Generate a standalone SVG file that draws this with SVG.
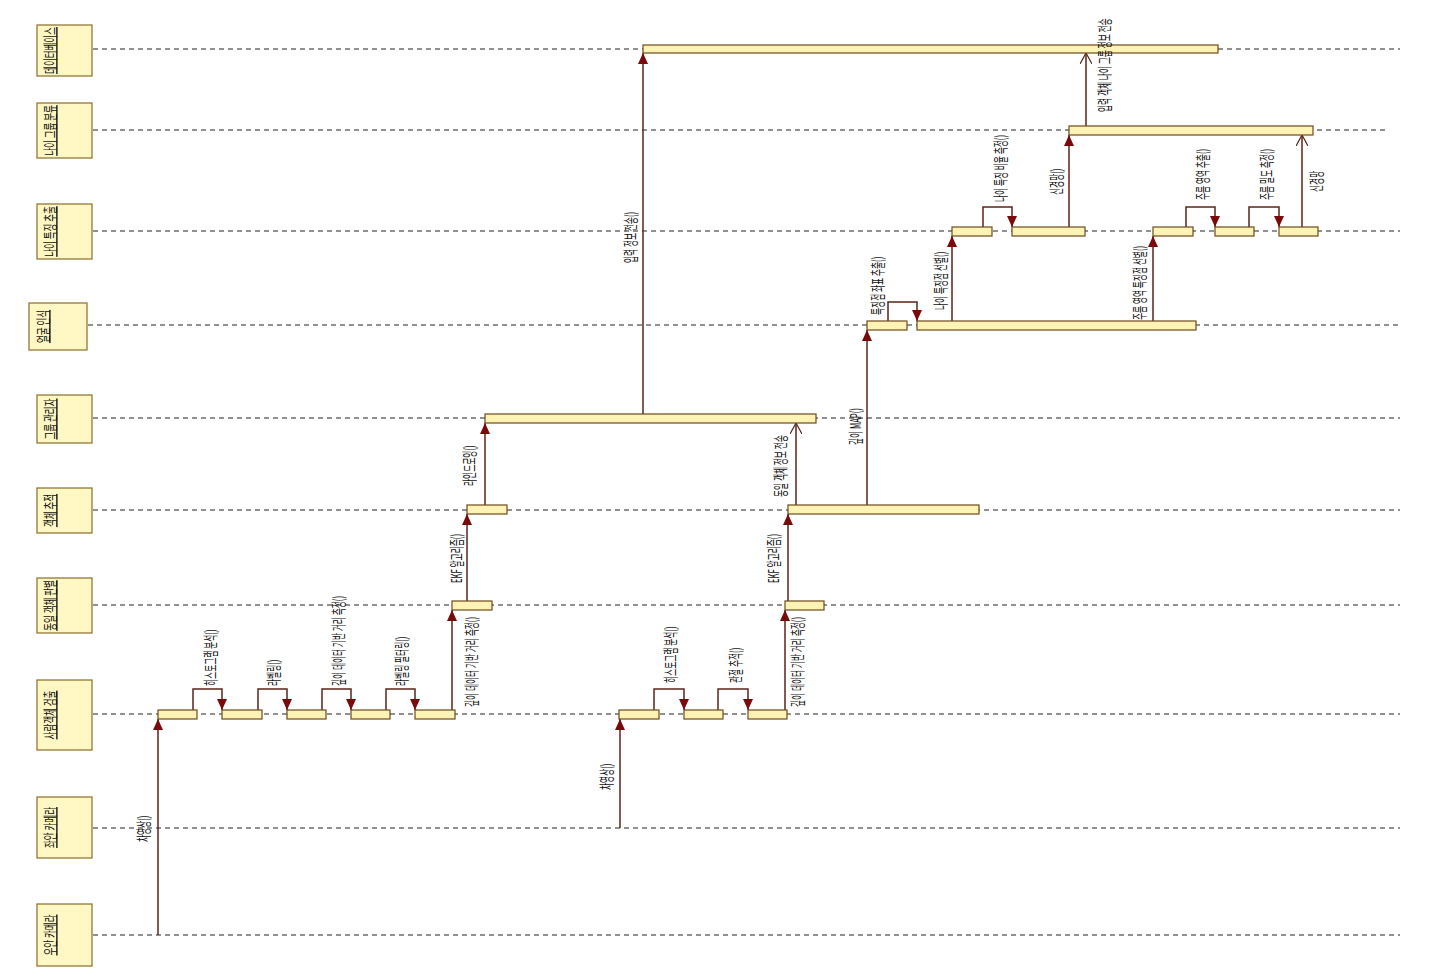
<svg xmlns="http://www.w3.org/2000/svg" width="1430" height="980" viewBox="0 0 1430 980">
<style>
.bg{fill:#ffffff}
.life{stroke:#222;stroke-width:1;stroke-dasharray:5,4;fill:none}
.obj{fill:#fff8c4;stroke:#8a6d2c;stroke-width:1.2}
.act{fill:#fdf3b4;stroke:#6e4a1c;stroke-width:1.2}
.msg{stroke:#5a2418;stroke-width:1.5;fill:none}
.lbl{font-family:"Noto Sans CJK KR","Noto Sans",sans-serif;font-size:7.7px;fill:#111}
.olbl{font-family:"Noto Sans CJK KR","Noto Sans",sans-serif;font-size:8.5px;fill:#111;text-decoration:underline}
</style>
<defs>
<marker id="fa" markerUnits="userSpaceOnUse" markerWidth="12" markerHeight="10" refX="11" refY="5" orient="auto">
<path d="M0,0 L11,5 L0,10 z" fill="#7a0a0a"/>
</marker>
<marker id="oa" markerUnits="userSpaceOnUse" markerWidth="12" markerHeight="12" refX="11" refY="6" orient="auto">
<path d="M0,0 L11,6 L0,12" fill="none" stroke="#5a2418" stroke-width="1.2"/>
</marker>
</defs>
<rect class="bg" x="0" y="0" width="1430" height="980"/>

<g id="lifelines">
<line class="life" x1="93" y1="49" x2="1400" y2="49"/>
<line class="life" x1="93" y1="130" x2="1385" y2="130"/>
<line class="life" x1="93" y1="231" x2="1400" y2="231"/>
<line class="life" x1="88" y1="325" x2="1400" y2="325"/>
<line class="life" x1="93" y1="418" x2="1400" y2="418"/>
<line class="life" x1="93" y1="510" x2="1400" y2="510"/>
<line class="life" x1="93" y1="605" x2="1400" y2="605"/>
<line class="life" x1="93" y1="714" x2="1400" y2="714"/>
<line class="life" x1="93" y1="828" x2="1400" y2="828" stroke="#555"/>
<line class="life" x1="93" y1="935" x2="1400" y2="935" stroke="#555"/>
</g>

<g id="obj-db"><rect class="obj" x="37" y="25" width="55" height="51"/><text class="olbl" text-anchor="middle" transform="translate(55,50.5) rotate(-90) scale(1,1.6)">데이터베이스</text></g>
<g id="obj-agegroup"><rect class="obj" x="37" y="103" width="55" height="55"/><text class="olbl" text-anchor="middle" transform="translate(55,130.5) rotate(-90) scale(1,1.6)">나이 그룹 분류</text></g>
<g id="obj-agefeature"><rect class="obj" x="37" y="204" width="55" height="55"/><text class="olbl" text-anchor="middle" transform="translate(55,231.5) rotate(-90) scale(1,1.6)">나이 특징 추출</text></g>
<g id="obj-face"><rect class="obj" x="29" y="303" width="58" height="47"/><text class="olbl" text-anchor="middle" transform="translate(48,326.5) rotate(-90) scale(1,1.6)">얼굴 인식</text></g>
<g id="obj-group"><rect class="obj" x="37" y="395" width="55" height="48"/><text class="olbl" text-anchor="middle" transform="translate(55,419) rotate(-90) scale(1,1.6)">그룹 관리자</text></g>
<g id="obj-track"><rect class="obj" x="37" y="488" width="55" height="45"/><text class="olbl" text-anchor="middle" transform="translate(55,510.5) rotate(-90) scale(1,1.6)">객체 추적</text></g>
<g id="obj-judge"><rect class="obj" x="37" y="578" width="55" height="55"/><text class="olbl" text-anchor="middle" transform="translate(55,605.5) rotate(-90) scale(1,1.6)">동일 객체 판별</text></g>
<g id="obj-detect"><rect class="obj" x="37" y="680" width="55" height="70"/><text class="olbl" text-anchor="middle" transform="translate(55,715) rotate(-90) scale(1,1.6)">사람객체 검출</text></g>
<g id="obj-leftcam"><rect class="obj" x="37" y="797" width="55" height="61"/><text class="olbl" text-anchor="middle" transform="translate(55,827.5) rotate(-90) scale(1,1.6)">좌안 카메라</text></g>
<g id="obj-rightcam"><rect class="obj" x="37" y="904" width="55" height="62"/><text class="olbl" text-anchor="middle" transform="translate(55,935) rotate(-90) scale(1,1.6)">우안 카메라</text></g>

<g id="connectors">
<line class="msg" x1="158" y1="935" x2="158" y2="719" marker-end="url(#fa)"/>
<path class="msg" d="M193,710 V689 H222 V710" marker-end="url(#fa)"/>
<path class="msg" d="M258,710 V689 H287 V710" marker-end="url(#fa)"/>
<path class="msg" d="M322,710 V689 H351 V710" marker-end="url(#fa)"/>
<path class="msg" d="M386,710 V689 H415 V710" marker-end="url(#fa)"/>
<line class="msg" x1="452" y1="710" x2="452" y2="610" marker-end="url(#fa)"/>
<line class="msg" x1="467" y1="601" x2="467" y2="514" marker-end="url(#fa)"/>
<line class="msg" x1="485" y1="506" x2="485" y2="423" marker-end="url(#fa)"/>
<line class="msg" x1="643" y1="414" x2="643" y2="53" marker-end="url(#fa)"/>
<line class="msg" x1="620" y1="828" x2="620" y2="719" marker-end="url(#fa)"/>
<path class="msg" d="M654,710 V689 H684 V710" marker-end="url(#fa)"/>
<path class="msg" d="M718,710 V689 H748 V710" marker-end="url(#fa)"/>
<line class="msg" x1="785" y1="710" x2="785" y2="610" marker-end="url(#fa)"/>
<line class="msg" x1="788" y1="601" x2="788" y2="514" marker-end="url(#fa)"/>
<line class="msg" x1="796" y1="506" x2="796" y2="423" marker-end="url(#oa)"/>
<line class="msg" x1="867" y1="506" x2="867" y2="330" marker-end="url(#fa)"/>
<path class="msg" d="M888,321 V302 H917 V321" marker-end="url(#fa)"/>
<line class="msg" x1="952" y1="321" x2="952" y2="236" marker-end="url(#fa)"/>
<path class="msg" d="M983,227 V207 H1012 V227" marker-end="url(#fa)"/>
<line class="msg" x1="1069" y1="227" x2="1069" y2="135" marker-end="url(#fa)"/>
<line class="msg" x1="1086" y1="126" x2="1086" y2="53" marker-end="url(#oa)"/>
<line class="msg" x1="1153" y1="321" x2="1153" y2="236" marker-end="url(#fa)"/>
<path class="msg" d="M1186,227 V207 H1215 V227" marker-end="url(#fa)"/>
<path class="msg" d="M1249,227 V207 H1279 V227" marker-end="url(#fa)"/>
<line class="msg" x1="1302" y1="227" x2="1302" y2="135" marker-end="url(#oa)"/>
</g>

<g id="activations">
<rect class="act" x="158" y="710" width="39" height="9"/>
<rect class="act" x="222" y="710" width="40" height="9"/>
<rect class="act" x="287" y="710" width="39" height="9"/>
<rect class="act" x="351" y="710" width="39" height="9"/>
<rect class="act" x="415" y="710" width="40" height="9"/>
<rect class="act" x="619" y="710" width="40" height="9"/>
<rect class="act" x="684" y="710" width="39" height="9"/>
<rect class="act" x="748" y="710" width="39" height="9"/>
<rect class="act" x="452" y="601" width="40" height="9"/>
<rect class="act" x="785" y="601" width="39" height="9"/>
<rect class="act" x="467" y="505" width="40" height="9"/>
<rect class="act" x="788" y="505" width="191" height="9"/>
<rect class="act" x="485" y="414" width="331" height="9"/>
<rect class="act" x="643" y="45" width="575" height="8"/>
<rect class="act" x="867" y="321" width="40" height="9"/>
<rect class="act" x="917" y="321" width="279" height="9"/>
<rect class="act" x="952" y="227" width="40" height="9"/>
<rect class="act" x="1012" y="227" width="73" height="9"/>
<rect class="act" x="1153" y="227" width="40" height="9"/>
<rect class="act" x="1215" y="227" width="39" height="9"/>
<rect class="act" x="1279" y="227" width="39" height="9"/>
<rect class="act" x="1069" y="126" width="244" height="9"/>
</g>

<g id="labels">
<text class="lbl" transform="translate(149,842) rotate(-90) scale(1,1.9)">차영상()</text>
<text class="lbl" transform="translate(216,686) rotate(-90) scale(1,1.9)">히스토그램 분석()</text>
<text class="lbl" transform="translate(279,686) rotate(-90) scale(1,1.9)">라벨링()</text>
<text class="lbl" transform="translate(344,686) rotate(-90) scale(1,1.9)">깊이 데이터 기반 거리 측정()</text>
<text class="lbl" transform="translate(407,686) rotate(-90) scale(1,1.9)">라벨링 필터링()</text>
<text class="lbl" transform="translate(477,707) rotate(-90) scale(1,1.9)">깊이 데이터 기반 거리 측정()</text>
<text class="lbl" transform="translate(462,583) rotate(-90) scale(1,1.9)">EKF 알고리즘()</text>
<text class="lbl" transform="translate(475,486) rotate(-90) scale(1,1.9)">라인드로잉()</text>
<text class="lbl" transform="translate(636,263) rotate(-90) scale(1,1.9)">입력 정보 전송()</text>
<text class="lbl" transform="translate(612,790) rotate(-90) scale(1,1.9)">차영상()</text>
<text class="lbl" transform="translate(676,683) rotate(-90) scale(1,1.9)">히스토그램 분석()</text>
<text class="lbl" transform="translate(741,683) rotate(-90) scale(1,1.9)">관절 추적()</text>
<text class="lbl" transform="translate(803,707) rotate(-90) scale(1,1.9)">깊이 데이터 기반 거리 측정()</text>
<text class="lbl" transform="translate(779,583) rotate(-90) scale(1,1.9)">EKF 알고리즘()</text>
<text class="lbl" transform="translate(786,497) rotate(-90) scale(1,1.9)">동일 객체 정보 전송</text>
<text class="lbl" transform="translate(861,445) rotate(-90) scale(1,1.9)">깊이 MAP()</text>
<text class="lbl" transform="translate(883,315) rotate(-90) scale(1,1.9)">특징점 좌표 추출()</text>
<text class="lbl" transform="translate(946,310) rotate(-90) scale(1,1.9)">나이 특징점 선별()</text>
<text class="lbl" transform="translate(1006,202) rotate(-90) scale(1,1.9)">나이 특징 비율 측정()</text>
<text class="lbl" transform="translate(1062,195) rotate(-90) scale(1,1.9)">신경망()</text>
<text class="lbl" transform="translate(1110,112) rotate(-90) scale(1,1.9)">입력 객체 나이 그룹 정보 전송</text>
<text class="lbl" transform="translate(1145,320) rotate(-90) scale(1,1.9)">주름 영역 특징점 선별()</text>
<text class="lbl" transform="translate(1208,200) rotate(-90) scale(1,1.9)">주름 영역 추출()</text>
<text class="lbl" transform="translate(1272,200) rotate(-90) scale(1,1.9)">주름 밀도 측정()</text>
<text class="lbl" transform="translate(1322,192) rotate(-90) scale(1,1.9)">신경망</text>
</g>
</svg>
